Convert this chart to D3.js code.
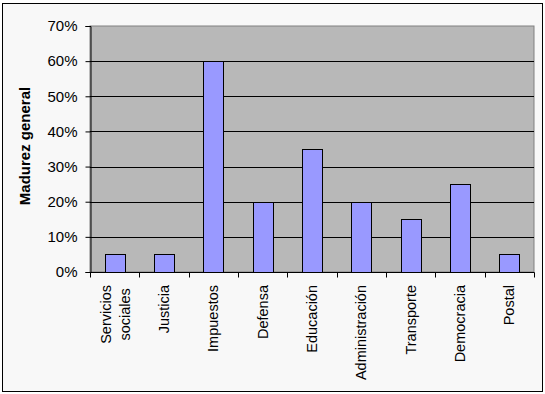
<!DOCTYPE html>
<html><head><meta charset="utf-8">
<script src="https://cdn.jsdelivr.net/npm/d3@7"></script>
<style>body{margin:0;background:#fff}svg{display:block}</style>
</head><body>
<svg id="c" width="545" height="394"></svg>
<script>
const categories = [["Servicios","sociales"],["Justicia"],["Impuestos"],["Defensa"],["Educación"],["Administración"],["Transporte"],["Democracia"],["Postal"]];
const values = [0.05,0.05,0.60,0.20,0.35,0.20,0.15,0.25,0.05];
const yTicks = [0,0.1,0.2,0.3,0.4,0.5,0.6,0.7];
const yTitle = "Madurez general";

const svg = d3.select("#c");
const font = "'Liberation Sans', Arial, sans-serif";
svg.append("rect").attr("x",2.5).attr("y",3.5).attr("width",540).attr("height",388)
  .attr("fill","#f8f8f8").attr("stroke","#000").attr("stroke-width",1);

const L=90, R=534, T=26, B=272;
const x = d3.scaleBand().domain(d3.range(categories.length)).range([L,R]).paddingInner(0).paddingOuter(0);
const y = d3.scaleLinear().domain([0,0.7]).range([B,T]);

svg.append("rect").attr("x",L).attr("y",T).attr("width",R-L).attr("height",B-T)
  .attr("fill","#b8b8b8").attr("stroke","#808080").attr("stroke-width",1);

// gridlines
svg.append("g").selectAll("line").data(yTicks.filter(d=>d>0 && d<0.7)).join("line")
  .attr("x1",L).attr("x2",R).attr("y1",d=>Math.round(y(d))+0.5).attr("y2",d=>Math.round(y(d))+0.5)
  .attr("stroke","#000");

// bars
const bw = x.bandwidth()*0.4;
svg.append("g").selectAll("rect").data(values).join("rect")
  .attr("x",(d,i)=>Math.round(x(i)+x.bandwidth()/2-bw/2)+0.5)
  .attr("y",d=>Math.round(y(d))+0.5)
  .attr("width",Math.round(bw))
  .attr("height",d=>Math.round(B-y(d)))
  .attr("fill","#9999ff").attr("stroke","#000");

// y axis
const ya = svg.append("g").attr("transform",`translate(${L+0.5},0)`)
  .call(d3.axisLeft(y).tickValues(yTicks).tickFormat(d3.format(".0%")).tickSize(5).tickPadding(8));
ya.select(".domain").attr("stroke","#000");
ya.selectAll(".tick line").attr("stroke","#000");
ya.selectAll("text").attr("font-family",font).attr("font-size","15px").attr("fill","#000");

// x axis
const xa = svg.append("g").attr("transform",`translate(0,${B+0.5})`);
xa.append("line").attr("x1",L).attr("x2",R+0.5).attr("stroke","#000");
const tickPos = d3.range(categories.length+1).map(i=>L+i*x.step());
xa.selectAll("line.t").data(tickPos).join("line").attr("class","t")
  .attr("x1",d=>Math.round(d)+0.5).attr("x2",d=>Math.round(d)+0.5).attr("y1",0).attr("y2",5).attr("stroke","#000");

categories.forEach((lines,i)=>{
  const cx = x(i)+x.bandwidth()/2;
  const g = svg.append("g").attr("transform",`translate(${cx},285) rotate(-90)`);
  const n = lines.length;
  const ts = lines.map((s,j)=>g.append("text").text(s)
      .attr("font-family",font).attr("font-size","14.5px").attr("fill","#000")
      .attr("y", n>1 ? -4 + j*19.3 : 5));
  const w = d3.max(ts,t=>t.node().getComputedTextLength());
  ts.forEach(t=>t.attr("text-anchor","middle").attr("x",-w/2));
});

svg.append("text").attr("transform","translate(30,146) rotate(-90)")
  .attr("text-anchor","middle").attr("font-family",font).attr("font-weight","bold")
  .attr("font-size","15px").attr("fill","#000").text(yTitle);
</script>
</body></html>
